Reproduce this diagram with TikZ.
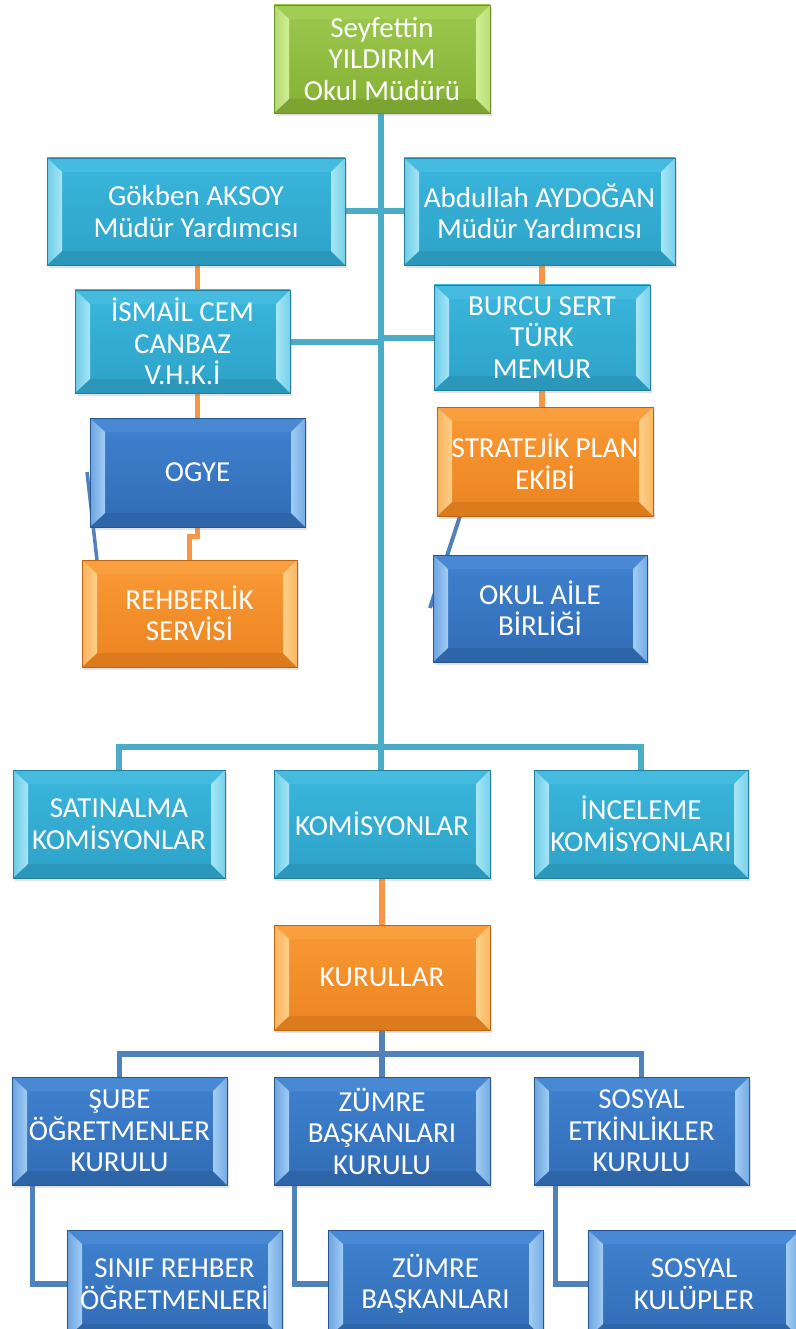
\documentclass[tikz,border=0pt]{standalone}
\usepackage{fontspec}
\setmainfont{Carlito}
\usetikzlibrary{calc,shadows,backgrounds}
\definecolor{cytop}{HTML}{3AB6DC}\definecolor{cybot}{HTML}{2EA2C8}\definecolor{cyhi}{HTML}{A8E6F6}\definecolor{cyedge}{HTML}{237E9E}
\definecolor{grtop}{HTML}{9CC94E}\definecolor{grbot}{HTML}{84B034}\definecolor{grhi}{HTML}{D2EE96}\definecolor{gredge}{HTML}{6A8F26}
\definecolor{bltop}{HTML}{3F82D0}\definecolor{blbot}{HTML}{326CB5}\definecolor{blhi}{HTML}{A2CCF4}\definecolor{bledge}{HTML}{27558F}
\definecolor{ortop}{HTML}{F99A36}\definecolor{orbot}{HTML}{EC8420}\definecolor{orhi}{HTML}{FDD08A}\definecolor{oredge}{HTML}{BC6410}
\definecolor{cyline}{HTML}{4BACC6}\definecolor{orline}{HTML}{F79646}\definecolor{blline}{HTML}{4F81BD}
\tikzset{
  bx/.style={draw=#1edge, line width=0.8pt, minimum width=216pt, minimum height=108pt,
    inner sep=0pt, text=white, align=center, font=\fontsize{29}{31.5}\selectfont,
    top color=#1top, bottom color=#1bot,
    drop shadow={opacity=0.22, shadow xshift=1.5pt, shadow yshift=-3pt},
    path picture={
      \fill[#1top!90!#1hi] (path picture bounding box.north west) -- (path picture bounding box.north east)
        -- ([xshift=-14pt,yshift=-14pt]path picture bounding box.north east) -- ([xshift=15pt,yshift=-14pt]path picture bounding box.north west) -- cycle;
      \fill[#1bot!93!black] (path picture bounding box.south west) -- (path picture bounding box.south east)
        -- ([xshift=-14pt,yshift=14pt]path picture bounding box.south east) -- ([xshift=15pt,yshift=14pt]path picture bounding box.south west) -- cycle;
      \shade[left color=#1top!55!#1hi, right color=#1hi] (path picture bounding box.south west) -- (path picture bounding box.north west)
        -- ([xshift=15pt,yshift=-14pt]path picture bounding box.north west) -- ([xshift=15pt,yshift=14pt]path picture bounding box.south west) -- cycle;
      \shade[left color=#1hi, right color=#1top!45!#1hi] (path picture bounding box.south east) -- (path picture bounding box.north east)
        -- ([xshift=-14pt,yshift=-14pt]path picture bounding box.north east) -- ([xshift=-14pt,yshift=14pt]path picture bounding box.south east) -- cycle;
    }},
  cyl/.style={draw=cyline, line width=6pt},
  orl/.style={draw=orline, line width=5.5pt},
  bll/.style={draw=blline, line width=5.5pt},
}
\begin{document}
\begin{tikzpicture}[x=1pt,y=-1pt]
\useasboundingbox (0,0) rectangle (795,1329);
% boxes
\node[bx=gr] (top) at (382,59) {Seyfettin\\YILDIRIM\\Okul Müdürü};
\node[bx=cy, minimum width=298pt, minimum height=107pt] (gok) at (196,211.5) {Gökben AKSOY\\Müdür Yardımcısı};
\node[bx=cy, minimum width=271pt, minimum height=107pt] (abd) at (539.5,211.5) {Abdullah AYDOĞAN\\Müdür Yardımcısı};
\node[bx=cy, minimum width=215pt, minimum height=103pt] (ism) at (182.5,341.5) {İSMAİL CEM\\CANBAZ\\V.H.K.İ};
\node[bx=cy, minimum height=105pt] (bur) at (542,337.5) {BURCU SERT\\TÜRK\\MEMUR};
\node[bx=bl, minimum width=215pt, minimum height=109pt] (ogye) at (197.5,472.5) {OGYE};
\node[bx=or, minimum height=109pt] (str) at (545,461.5) {STRATEJİK PLAN\\EKİBİ};
\node[bx=or, minimum width=215pt, minimum height=107pt] (reh) at (189.5,613.5) {REHBERLİK\\SERVİSİ};
\node[bx=bl, minimum width=214pt, minimum height=107pt] (oka) at (540,608.5) {OKUL AİLE\\BİRLİĞİ};
\node[bx=cy, minimum width=212pt] (sat) at (119,824) {SATINALMA\\KOMİSYONLAR};
\node[bx=cy] (kom) at (382,824) {KOMİSYONLAR};
\node[bx=cy, minimum width=214pt] (inc) at (641,824) {İNCELEME\\KOMİSYONLARI};
\node[bx=or, minimum height=105pt] (kur) at (382,977.5) {KURULLAR};
\node[bx=bl, minimum width=215pt] (sube) at (119.5,1131) {ŞUBE\\ÖĞRETMENLER\\KURULU};
\node[bx=bl] (zbk) at (382,1131) {ZÜMRE\\BAŞKANLARI\\KURULU};
\node[bx=bl, minimum width=215pt] (sek) at (641.5,1131) {SOSYAL\\ETKİNLİKLER\\KURULU};
\node[bx=bl, minimum width=215pt] (sin) at (174.5,1284) {SINIF REHBER\\ÖĞRETMENLERİ};
\node[bx=bl, minimum width=215pt] (zb) at (435.5,1284) {ZÜMRE\\BAŞKANLARI};
\node[bx=bl, minimum width=212pt] (sk) at (694,1284) {SOSYAL\\KULÜPLER};
% connector points
\coordinate (ctop) at (381,113);
\coordinate (bar1) at (381,747);
\coordinate (bar2) at (382,1054);
\coordinate (ogl) at (87,472);
\coordinate (rehl) at (97,560);
\coordinate (strl) at (460,516);
\coordinate (okal) at (430,608);
\begin{pgfonlayer}{background}
\draw[cyl] (ctop) -- (bar1);
\draw[cyl] (bar1) -- (bar1 |- kom.north);
\draw[cyl] (gok.east) -- (abd.west);
\draw[cyl] (ism.east) -- (ism.east -| ctop);
\draw[cyl] (bur.west -| ctop) -- (bur.west);
\draw[cyl] (sat.north) |- (bar1) -| (inc.north);
\draw[orl] (gok.south -| ogye.north) -- (ogye.north);
\draw[orl] (ogye.south) -- ++(0,9) -| (reh.north);
\draw[orl] (abd.south -| bur.north) -- (bur.north);
\draw[orl] (bur.south) -- (bur.south |- str.north);
\draw[orl] (kom.south) -- (kur.north);
\draw[bll, line width=3.5pt] (ogl) -- (rehl);
\draw[bll, line width=4pt] (strl) -- (okal);
\draw[bll] (kur.south) -- (bar2);
\draw[bll] (sube.north) |- (bar2) -| (sek.north);
\draw[bll] (bar2) -- (zbk.north);
\draw[bll] ([xshift=21pt]sube.south west) |- (sin.west);
\draw[bll] ([xshift=21pt]zbk.south west) |- (zb.west);
\draw[bll] ([xshift=22pt]sek.south west) |- (sk.west);
\end{pgfonlayer}
\end{tikzpicture}
\end{document}
